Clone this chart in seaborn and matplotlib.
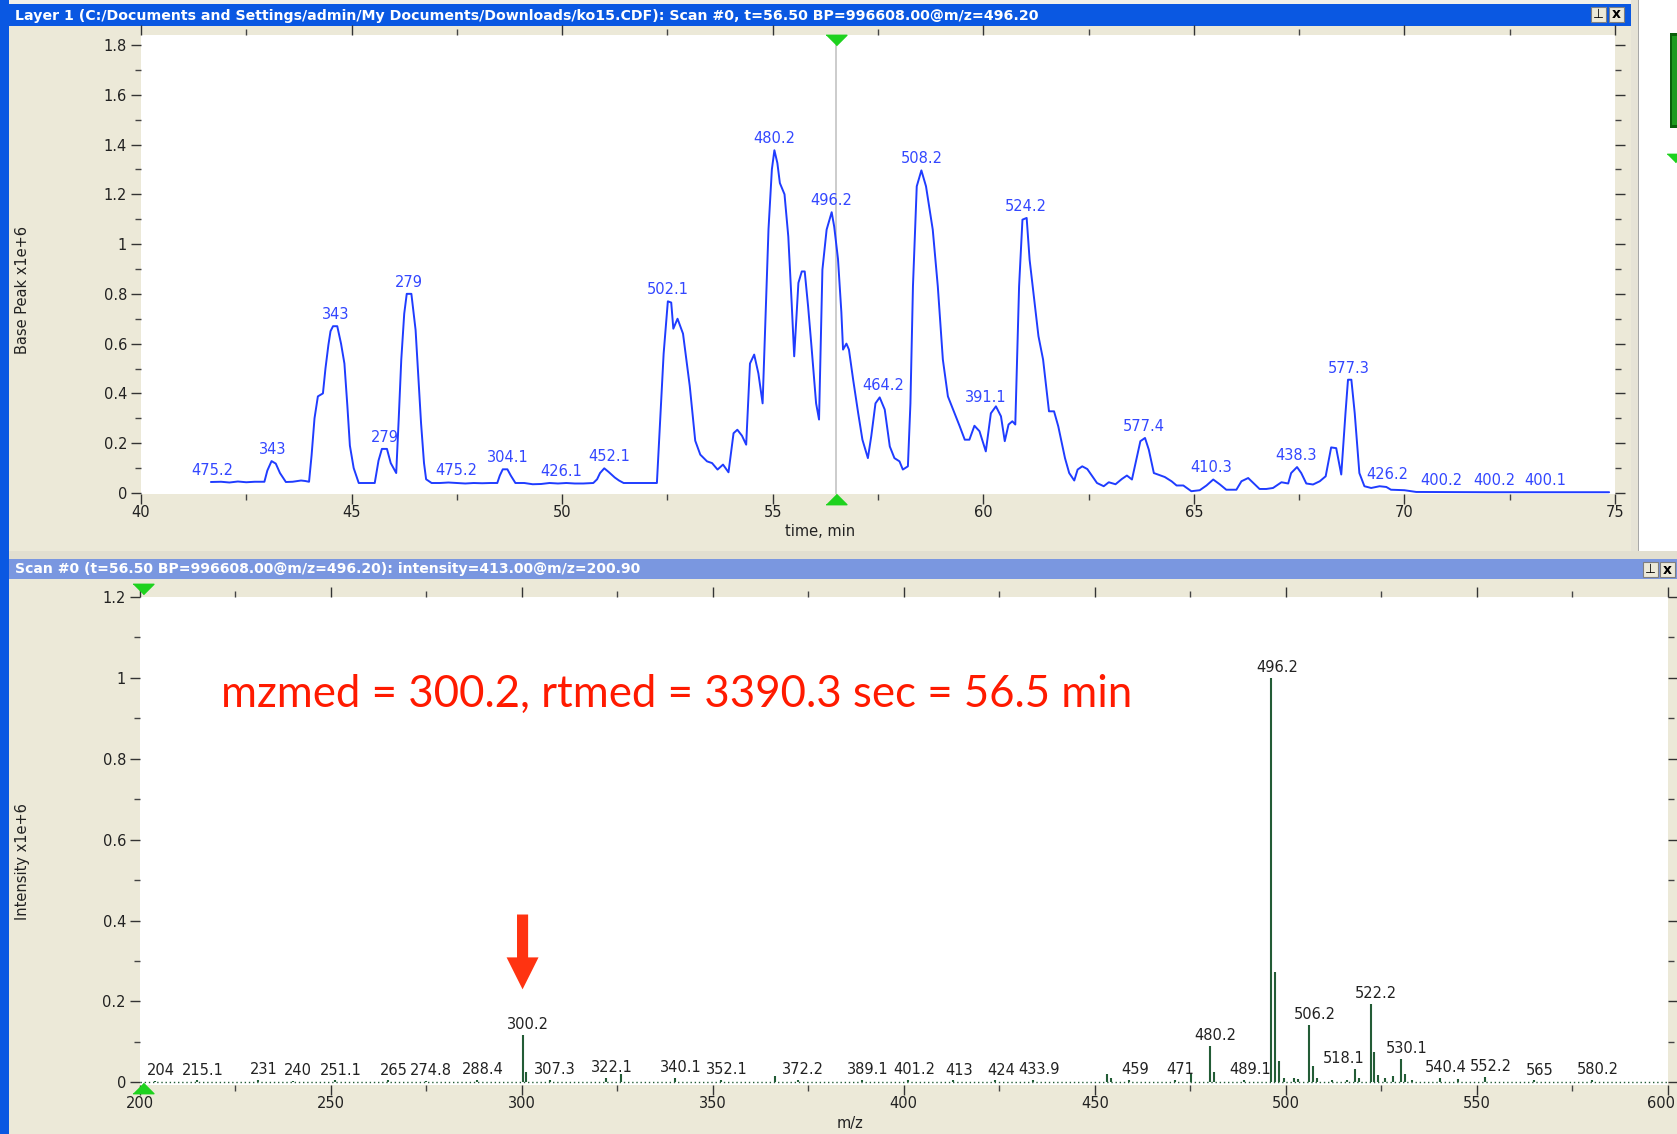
import numpy as np
import pandas as pd
import matplotlib
matplotlib.use("Agg")
import matplotlib.pyplot as plt
import seaborn as sns
from matplotlib.patches import Rectangle
from matplotlib.lines import Line2D
from matplotlib.ticker import MultipleLocator, FuncFormatter

# ---------------- data ----------------
chrom_time = [41.66, 41.9, 42.1, 42.3, 42.5, 42.7, 42.93,
              43.0, 43.1, 43.2, 43.3, 43.44, 43.6, 43.8, 43.9, 43.99,
              44.05, 44.12, 44.2, 44.32, 44.38, 44.45, 44.5, 44.56, 44.66, 44.75, 44.83, 44.9, 44.96, 45.05, 45.17, 45.3, 45.45, 45.55,
              45.64, 45.72, 45.84, 45.93, 46.06, 46.12, 46.18, 46.25, 46.31, 46.42, 46.52, 46.58, 46.65, 46.72, 46.77, 46.9,
              47.1, 47.3, 47.5, 47.7, 47.9, 48.1, 48.3, 48.46,
              48.52, 48.59, 48.7, 48.78, 48.89, 49.1, 49.3, 49.5, 49.7, 49.9, 50.1, 50.3, 50.5, 50.74,
              50.83, 50.9, 51.0, 51.1, 51.25, 51.35, 51.46, 51.7, 52.0, 52.25,
              52.33, 52.41, 52.51, 52.59, 52.64, 52.74, 52.87, 53.03, 53.16, 53.28, 53.44, 53.56, 53.69, 53.82, 53.95,
              54.07, 54.16, 54.27, 54.37, 54.46, 54.56, 54.66, 54.76, 54.9, 54.98, 55.04, 55.11, 55.17, 55.28, 55.37,
              55.45, 55.51, 55.61, 55.69, 55.76, 55.84, 55.92, 56.03, 56.1, 56.18, 56.28, 56.4, 56.46, 56.55, 56.63,
              56.67, 56.75, 56.81, 56.91, 57.03, 57.13, 57.26, 57.34, 57.44, 57.54, 57.66, 57.78, 57.89, 58.01, 58.09,
              58.21, 58.27, 58.33, 58.42, 58.53, 58.64, 58.8, 58.92, 59.04, 59.16, 59.32, 59.44, 59.56, 59.67, 59.79,
              59.91, 60.06, 60.18, 60.3, 60.42, 60.51, 60.6, 60.69, 60.76, 60.85, 60.93, 61.03, 61.1, 61.2, 61.31,
              61.42, 61.56, 61.68, 61.78, 61.94, 62.04, 62.16, 62.24, 62.35, 62.47, 62.59, 62.7, 62.86, 62.98, 63.14,
              63.29, 63.41, 63.53, 63.65, 63.73, 63.84, 63.93, 64.05,
              64.15, 64.31, 64.47, 64.59, 64.75, 64.94, 65.14, 65.3, 65.46, 65.62, 65.77, 66.01, 66.13, 66.29, 66.45,
              66.56, 66.72, 66.88, 67.08, 67.24, 67.31, 67.45, 67.55, 67.67, 67.83, 67.99, 68.13, 68.26, 68.38, 68.5,
              68.6, 68.66, 68.74, 68.82, 68.93, 69.05, 69.21, 69.41, 69.57, 69.68, 70.0, 70.28, 72.0, 74.86]
chrom_intensity = [0.044, 0.045, 0.042, 0.046, 0.043, 0.045, 0.045,
                   0.09, 0.128, 0.118, 0.08, 0.044, 0.045, 0.05, 0.048, 0.045,
                   0.15, 0.30, 0.388, 0.40, 0.50, 0.595, 0.65, 0.67, 0.67, 0.60, 0.52, 0.35, 0.19, 0.10, 0.04, 0.04, 0.04, 0.04,
                   0.13, 0.177, 0.177, 0.12, 0.08, 0.30, 0.535, 0.72, 0.80, 0.80, 0.655, 0.48, 0.28, 0.12, 0.055, 0.04,
                   0.04, 0.042, 0.04, 0.038, 0.04, 0.039, 0.04, 0.04,
                   0.07, 0.095, 0.095, 0.07, 0.04, 0.04, 0.035, 0.036, 0.04, 0.038, 0.04, 0.038, 0.038, 0.04,
                   0.055, 0.08, 0.099, 0.085, 0.062, 0.05, 0.04, 0.04, 0.04, 0.04,
                   0.30, 0.56, 0.77, 0.765, 0.66, 0.70, 0.64, 0.43, 0.21, 0.154, 0.127, 0.12, 0.094, 0.114, 0.083,
                   0.24, 0.254, 0.23, 0.194, 0.52, 0.556, 0.48, 0.36, 1.06, 1.30, 1.377, 1.326, 1.245, 1.20, 1.03,
                   0.763, 0.549, 0.844, 0.89, 0.89, 0.75, 0.59, 0.36, 0.295, 0.897, 1.058, 1.128, 1.07, 0.94, 0.726,
                   0.576, 0.60, 0.576, 0.455, 0.32, 0.214, 0.14, 0.228, 0.36, 0.384, 0.335, 0.187, 0.14, 0.127, 0.094,
                   0.107, 0.36, 0.83, 1.232, 1.296, 1.232, 1.058, 0.83, 0.536, 0.388, 0.32, 0.268, 0.214, 0.214, 0.27,
                   0.248, 0.167, 0.32, 0.348, 0.308, 0.208, 0.275, 0.288, 0.275, 0.83, 1.098, 1.105, 0.937, 0.79, 0.63,
                   0.536, 0.328, 0.328, 0.268, 0.14, 0.08, 0.05, 0.094, 0.107, 0.096, 0.067, 0.04, 0.027, 0.043, 0.035,
                   0.056, 0.07, 0.054, 0.147, 0.208, 0.221, 0.174, 0.08,
                   0.074, 0.064, 0.047, 0.03, 0.03, 0.007, 0.011, 0.03, 0.054, 0.034, 0.013, 0.013, 0.047, 0.06, 0.034,
                   0.016, 0.016, 0.02, 0.043, 0.038, 0.08, 0.104, 0.08, 0.038, 0.034, 0.047, 0.067, 0.183, 0.18, 0.074,
                   0.32, 0.455, 0.455, 0.32, 0.08, 0.027, 0.02, 0.027, 0.024, 0.013, 0.011, 0.004, 0.003, 0.003]

chrom_label_text = ["475.2", "343", "343", "279", "279", "475.2", "304.1", "426.1", "452.1", "502.1",
                    "480.2", "496.2", "464.2", "508.2", "391.1", "524.2", "577.4", "410.3", "438.3", "577.3",
                    "426.2", "400.2", "400.2", "400.1"]
chrom_label_time = [41.7, 43.12, 44.62, 45.78, 46.36, 47.48, 48.72, 49.99, 51.12, 52.52,
                    55.04, 56.4, 57.62, 58.53, 60.05, 61.0, 63.82, 65.42, 67.43, 68.68,
                    69.6, 70.87, 72.13, 73.35]

spec_mz = [204.0, 215.1, 231.0, 240.0, 251.1, 265.0, 274.8, 288.4, 300.2, 301.2, 307.3, 322.1, 325.9,
           340.1, 352.1, 366.2, 372.2, 389.1, 401.2, 413.0, 424.0, 433.9, 453.1, 454.3, 459.0, 471.0,
           475.2, 480.2, 481.2, 489.1, 496.2, 497.2, 498.2, 499.4, 502.2, 503.2, 506.2, 507.2, 508.1,
           512.0, 516.0, 518.1, 519.2, 522.2, 523.2, 524.1, 526.0, 528.0, 530.1, 531.1, 533.0, 540.4,
           545.0, 552.2, 565.0, 580.2]
spec_intensity = [0.004, 0.005, 0.007, 0.004, 0.005, 0.005, 0.004, 0.006, 0.117, 0.026, 0.006, 0.012, 0.02,
                  0.011, 0.006, 0.015, 0.006, 0.006, 0.006, 0.005, 0.005, 0.006, 0.021, 0.012, 0.006, 0.006,
                  0.021, 0.091, 0.025, 0.006, 1.0, 0.274, 0.054, 0.01, 0.011, 0.008, 0.143, 0.041, 0.01,
                  0.006, 0.006, 0.033, 0.01, 0.194, 0.074, 0.017, 0.01, 0.015, 0.058, 0.021, 0.006, 0.012,
                  0.008, 0.014, 0.005, 0.006]
spec_label_text = ["204", "215.1", "231", "240", "251.1", "265", "274.8", "288.4", "300.2", "307.3",
                   "322.1", "340.1", "352.1", "372.2", "389.1", "401.2", "413", "424", "433.9", "459",
                   "471", "480.2", "489.1", "496.2", "506.2", "518.1", "522.2", "530.1", "540.4", "552.2",
                   "565", "580.2"]

selected_time = 56.5
selected_mz = 200.9
arrow_mz = 300.2
annotation_text = "mzmed = 300.2, rtmed = 3390.3 sec = 56.5 min"
title_top = "Layer 1 (C:/Documents and Settings/admin/My Documents/Downloads/ko15.CDF): Scan #0, t=56.50 BP=996608.00@m/z=496.20"
title_bottom = "Scan #0 (t=56.50 BP=996608.00@m/z=496.20): intensity=413.00@m/z=200.90"

# ---------------- style ----------------
sns.set_theme(style="white")
plt.rcParams['font.family'] = ['DejaVu Sans']

W, H = 1677, 1134
BEIGE = "#ece9d8"
XP_BLUE = "#0a58e2"
XP_INACTIVE = "#7a97e0"
LINE_BLUE = "#1f3cff"
LABEL_BLUE = "#3347ff"
STEM_GREEN = "#235c36"
TRI_GREEN = "#1ed21e"
RED = "#ff1a00"
ARROW_RED = "#ff3311"
TXT = "#222222"

fig = plt.figure(figsize=(W / 100, H / 100), dpi=100)
fig.patch.set_facecolor(BEIGE)


def rect(x0, y0, x1, y1, color, z=-5, ec="none", lw=0):
    fig.add_artist(Rectangle((x0 / W, 1 - y1 / H), (x1 - x0) / W, (y1 - y0) / H,
                             transform=fig.transFigure, facecolor=color,
                             edgecolor=ec, linewidth=lw, zorder=z))


# window chrome
rect(0, 0, W, 4, "#f2f1ea")
rect(0, 0, 9, H, XP_BLUE)
rect(9, 4, 1631, 26, XP_BLUE)
rect(1631, 0, W, 553, "white")
rect(1631, 0, 1638, 553, "#e6e3d6")
rect(1638, 0, 1639, 553, "#a8a8a8")
rect(1670, 33, W, 128, "#0b5f0b")
rect(1672, 36, W, 125, "#1f9a1f")
rect(9, 551, W, 559, "#e2dfd0")
rect(9, 559, W, 579, XP_INACTIVE)
for (bx0, by0) in [(1591, 7), (1609, 7), (1643, 562), (1660, 562)]:
    rect(bx0, by0, bx0 + 15, by0 + 15, "#ece9d8", z=-4, ec="#7f7f7f", lw=0.8)
fig.text((1609 + 7.5) / W, 1 - (7 + 7.5) / H, "x", ha="center", va="center", fontsize=10,
         fontweight="bold", color="black")
fig.text((1660 + 7.5) / W, 1 - (562 + 7.5) / H, "x", ha="center", va="center", fontsize=10,
         fontweight="bold", color="black")
fig.text((1591 + 7.5) / W, 1 - (7 + 7.5) / H, "\u22a5", ha="center", va="center", fontsize=9,
         color="black")
fig.text((1643 + 7.5) / W, 1 - (562 + 7.5) / H, "\u22a5", ha="center", va="center", fontsize=9,
         color="black")
fig.add_artist(Line2D([1675 / W], [1 - 158 / H], transform=fig.transFigure, marker=[(-1, 0.5), (1, 0.5), (0, -0.5)],
                      markersize=12, color=TRI_GREEN, linestyle="none", zorder=2))

renderer = fig.canvas.get_renderer()


def fit_text(t, target_w):
    bb = t.get_window_extent(renderer)
    t.set_fontsize(t.get_fontsize() * target_w / bb.width)


t1 = fig.text(15 / W, 1 - 16 / H, title_top, color="white", fontsize=11, fontweight="bold",
              va="center", ha="left")
fit_text(t1, 1018)
t2 = fig.text(15 / W, 1 - 569.5 / H, title_bottom, color="white", fontsize=11, fontweight="bold",
              va="center", ha="left")
fit_text(t2, 628)

fmt = FuncFormatter(lambda v, p: f"{v:g}")


def style_axes(ax):
    for s in ax.spines.values():
        s.set_visible(False)
    ax.set_facecolor("white")
    ax.tick_params(which="major", direction="out", length=7, width=1, color="#333333",
                   top=True, right=True, bottom=True, left=True, labelsize=10.5,
                   labelcolor=TXT, pad=3)
    ax.tick_params(which="minor", direction="out", length=4, width=1, color="#444444",
                   top=True, right=True, bottom=True, left=True)
    ax.tick_params(axis="x", which="major", pad=1)
    ax.yaxis.set_major_formatter(fmt)
    ax.xaxis.set_major_formatter(fmt)


down_tri = [(-1, 0.5), (1, 0.5), (0, -0.5)]
up_tri = [(-1, -0.5), (1, -0.5), (0, 0.5)]

# ---------------- upper chromatogram ----------------
ax1 = fig.add_axes([141 / W, 1 - 493.7 / H, 1474 / W, 458.7 / H])
style_axes(ax1)
ax1.set_xlim(40, 75)
ax1.set_ylim(-0.003, 1.84)
ax1.xaxis.set_major_locator(MultipleLocator(5))
ax1.xaxis.set_minor_locator(MultipleLocator(2.5))
ax1.yaxis.set_major_locator(MultipleLocator(0.2))
ax1.yaxis.set_minor_locator(MultipleLocator(0.1))

chrom_df = pd.DataFrame({"time": chrom_time, "bp": chrom_intensity})
ax1.axvline(selected_time, color="#c4c4c4", lw=1.2, zorder=1)
sns.lineplot(data=chrom_df, x="time", y="bp", ax=ax1, color=LINE_BLUE, lw=1.4,
             estimator=None, sort=False, zorder=3)

ct = np.array(chrom_time)
ci = np.array(chrom_intensity)
for txt, tl in zip(chrom_label_text, chrom_label_time):
    lo, hi = tl - 0.2, tl + 0.2
    m = (ct >= lo) & (ct <= hi)
    cand = list(ci[m]) + [np.interp(lo, ct, ci), np.interp(hi, ct, ci)]
    ax1.annotate(txt, xy=(tl, max(cand)), xytext=(0, 3), textcoords="offset points",
                 ha="center", va="bottom", color=LABEL_BLUE, fontsize=10.5)

ax1.plot([selected_time], [0.99], transform=ax1.get_xaxis_transform(), marker=down_tri,
         markersize=15, color=TRI_GREEN, clip_on=False, linestyle="none", zorder=5)
ax1.plot([selected_time], [-0.012], transform=ax1.get_xaxis_transform(), marker=up_tri,
         markersize=15, color=TRI_GREEN, clip_on=False, linestyle="none", zorder=5)

ax1.set_xlabel("time, min", fontsize=10.5, color=TXT)
ax1.set_ylabel("Base Peak x1e+6", fontsize=10.5, color=TXT)
ax1.xaxis.set_label_coords(0.461, -0.066)
ax1.yaxis.set_label_coords(-0.0753, 0.444)

# ---------------- lower spectrum ----------------
ax2 = fig.add_axes([139.8 / W, 1 - 1085.2 / H, 1528 / W, 488.2 / H])
style_axes(ax2)
ax2.set_xlim(200, 600)
ax2.set_ylim(-0.007, 1.2)
ax2.xaxis.set_major_locator(MultipleLocator(50))
ax2.xaxis.set_minor_locator(MultipleLocator(25))
ax2.yaxis.set_major_locator(MultipleLocator(0.2))
ax2.yaxis.set_minor_locator(MultipleLocator(0.1))
# last x tick label sits at the window edge: draw it right-aligned instead
ax2.xaxis.set_major_formatter(FuncFormatter(lambda v, p: "" if v >= 600 else f"{v:g}"))
ax2.annotate("600", xy=(600, 0), xycoords=ax2.get_xaxis_transform(), xytext=(5, -8),
             textcoords="offset points", ha="right", va="top", fontsize=10.5, color=TXT,
             annotation_clip=False)

ax2.axhline(0.002, color=STEM_GREEN, lw=1.0, ls=(0, (1, 2)), zorder=2)
ax2.vlines(spec_mz, 0, spec_intensity, color=STEM_GREEN, lw=1.5, zorder=3)

smz = np.array(spec_mz)
sint = np.array(spec_intensity)
for txt in spec_label_text:
    v = float(txt)
    k = int(np.argmin(np.abs(smz - v)))
    dx = -8 if txt == "518.1" else 4
    ax2.annotate(txt, xy=(smz[k], sint[k]), xytext=(dx, 2), textcoords="offset points",
                 ha="center", va="bottom", color=TXT, fontsize=10.5)

ax2.plot([selected_mz], [1.016], transform=ax2.get_xaxis_transform(), marker=down_tri,
         markersize=15, color=TRI_GREEN, clip_on=False, linestyle="none", zorder=5)
ax2.plot([selected_mz], [-0.006], transform=ax2.get_xaxis_transform(), marker=up_tri,
         markersize=15, color=TRI_GREEN, clip_on=False, linestyle="none", zorder=5)

ax2.annotate("", xy=(arrow_mz, 0.23), xytext=(arrow_mz, 0.415),
             arrowprops=dict(facecolor=ARROW_RED, edgecolor="none", width=8, headwidth=23,
                             headlength=23, shrink=0), zorder=6)

rt = ax2.text(221.3, 0.958, annotation_text, color=RED, fontsize=30, ha="left", va="center",
              family=["Lato", "DejaVu Sans"])
fit_text(rt, 910)

ax2.set_xlabel("m/z", fontsize=10.5, color=TXT)
ax2.set_ylabel("Intensity x1e+6", fontsize=10.5, color=TXT)
ax2.xaxis.set_label_coords(0.465, -0.064)
ax2.yaxis.set_label_coords(-0.0719, 0.459)

fig.savefig("out.png", dpi=100, facecolor=BEIGE)
